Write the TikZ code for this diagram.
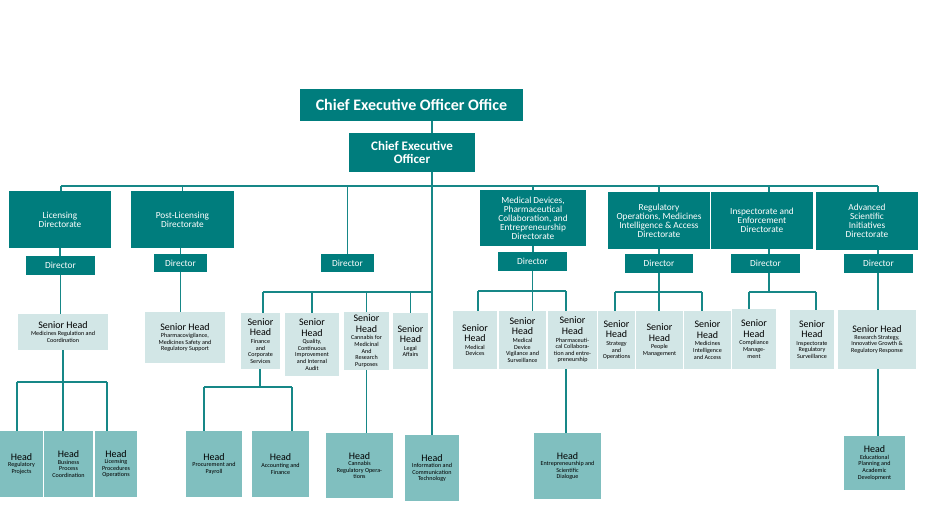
\documentclass[tikz,border=0pt]{standalone}
\usepackage{fontspec}
\setmainfont{Carlito}
\definecolor{orgdark}{RGB}{0,125,125}
\definecolor{orgline}{RGB}{22,135,135}
\definecolor{orglight}{RGB}{210,230,230}
\definecolor{orghead}{RGB}{128,191,191}
\newcommand{\sbig}{\fontsize{10}{11}\selectfont}
\begin{document}
\begin{tikzpicture}[x=1pt,y=-1pt]
		\tikzset{box/.style = {shape=rectangle, inner sep=1pt, align=center},
			wh/.style 2 args = {minimum width=#1, minimum height=#2},
			dark/.style = {box, fill=orgdark, text=white},
			directorate/.style = {dark, font=\fontsize{9.3}{9}\selectfont},
			director/.style = {dark, font=\fontsize{9.3}{10}\selectfont},
			senior/.style = {box, fill=orglight, font=\fontsize{6.1}{6.6}\selectfont},
			head/.style = {box, fill=orghead, font=\fontsize{6.1}{6.6}\selectfont},
			link/.style = {draw=orgline, line width=1.6pt}}

		\fill[white] (0,0) rectangle (927,527);
		\useasboundingbox (0,0) rectangle (927,527);

		\node[dark, wh={223}{32}, font=\fontsize{16}{17}\selectfont\bfseries] (top) at (411.5,105) {Chief Executive Officer Office};
		\node[dark, wh={126}{39}, font=\fontsize{13}{12.5}\selectfont\bfseries] (ceo) at (412,152.5) {Chief Executive\\Officer};

		\node[directorate, wh={102}{57}] (D_1) at (60,219.5) {Licensing\\Directorate};
		\node[directorate, wh={103}{57}] (D_2) at (182.5,219.5) {Post-Licensing\\Directorate};
		\node[directorate, wh={106}{56}] (D_3) at (533,218) {Medical Devices,\\Pharmaceutical\\Collaboration, and\\Entrepreneurship\\Directorate};
		\node[directorate, wh={102}{57}] (D_4) at (659,220.5) {Regulatory\\Operations, Medicines\\Intelligence \& Access\\Directorate};
		\node[directorate, wh={102}{57}] (D_5) at (762,220.5) {Inspectorate and\\Enforcement\\Directorate};
		\node[directorate, wh={102}{58}] (D_6) at (867,221) {Advanced\\Scientific\\Initiatives\\Directorate};

		\node[director, wh={69}{19}] (R_1) at (60.5,265.5) {Director};
		\node[director, wh={53}{18}] (R_2) at (180.5,263) {Director};
		\node[director, wh={53}{18}] (R_3) at (347.5,263) {Director};
		\node[director, wh={69}{19}] (R_4) at (532.5,261.5) {Director};
		\node[director, wh={68}{19}] (R_5) at (659,263.5) {Director};
		\node[director, wh={69}{19}] (R_6) at (765.5,263.5) {Director};
		\node[director, wh={69}{19}] (R_7) at (878.5,263.5) {Director};

		\node[senior, wh={90}{36}] (S_1) at (63,332) {{\sbig Senior Head}\\[1pt]Medicines Regulation and\\Coordination};
		\node[senior, wh={80}{51}] (S_2) at (185,337.5) {{\sbig Senior Head}\\[1pt]Pharmacovigilance,\\Medicines Safety and\\Regulatory Support};
		\node[senior, wh={39}{56}] (S_3) at (260.5,341) {{\sbig Senior}\\[2.5pt]{\sbig Head}\\[1pt]Finance\\and\\Corporate\\Services};
		\node[senior, wh={54}{63}] (S_4) at (312,344.5) {{\sbig Senior}\\[2.5pt]{\sbig Head}\\[1pt]Quality,\\Continuous\\Improvement\\and Internal\\Audit};
		\node[senior, wh={45}{58}] (S_5) at (366.5,341) {{\sbig Senior}\\[2.5pt]{\sbig Head}\\[1pt]Cannabis for\\Medicinal\\And\\Research\\Purposes};
		\node[senior, wh={35}{56}] (S_6) at (410.5,341) {{\sbig Senior}\\[2.5pt]{\sbig Head}\\[1pt]Legal\\Affairs};
		\node[senior, wh={44}{58}] (S_7) at (475,340) {{\sbig Senior}\\[2.5pt]{\sbig Head}\\[1pt]Medical\\Devices};
		\node[senior, wh={47}{58}] (S_8) at (522.5,340) {{\sbig Senior}\\[2.5pt]{\sbig Head}\\[1pt]Medical\\Device\\Vigilance and\\Surveillance};
		\node[senior, wh={49}{58}] (S_9) at (572.5,340) {{\sbig Senior}\\[2.5pt]{\sbig Head}\\[1pt]Pharmaceuti-\\cal Collabora-\\tion and entre-\\preneurship};
		\node[senior, wh={37}{58}] (S_10) at (616.5,340) {{\sbig Senior}\\[2.5pt]{\sbig Head}\\[1pt]Strategy\\and\\Operations};
		\node[senior, wh={47}{58}] (S_11) at (659.5,340) {{\sbig Senior}\\[2.5pt]{\sbig Head}\\[1pt]People\\Management};
		\node[senior, wh={47}{58}] (S_12) at (707.5,340) {{\sbig Senior}\\[2.5pt]{\sbig Head}\\[1pt]Medicines\\Intelligence\\and Access};
		\node[senior, wh={44}{60}] (S_13) at (754,339) {{\sbig Senior}\\[2.5pt]{\sbig Head}\\[1pt]Compliance\\Manage-\\ment};
		\node[senior, wh={44}{59}] (S_14) at (812,339.5) {{\sbig Senior}\\[2.5pt]{\sbig Head}\\[1pt]Inspectorate\\Regulatory\\Surveillance};
		\node[senior, wh={78}{59}] (S_15) at (877,339.5) {{\sbig Senior Head}\\Research Strategy,\\Innovative Growth \&\\Regulatory Response};

		\node[head, wh={43}{66}] (H_1) at (21.5,464) {{\sbig Head}\\Regulatory\\Projects};
		\node[head, wh={49}{66}] (H_2) at (68.5,464) {{\sbig Head}\\Business\\Process\\Coordination};
		\node[head, wh={42}{66}] (H_3) at (116,464) {{\sbig Head}\\Licensing\\Procedures\\Operations};
		\node[head, wh={56}{66}] (H_4) at (214,464) {{\sbig Head}\\Procurement and\\Payroll};
		\node[head, wh={57}{66}] (H_5) at (280.5,464) {{\sbig Head}\\Accounting and\\Finance};
		\node[head, wh={67}{65}] (H_6) at (359.5,465.5) {{\sbig Head}\\Cannabis\\Regulatory Opera-\\tions};
		\node[head, wh={54}{66}] (H_7) at (432,468) {{\sbig Head}\\Information and\\Communication\\Technology};
		\node[head, wh={67}{66}] (H_8) at (567.5,466) {{\sbig Head}\\Entrepreneurship and\\Scientific\\Dialogue};
		\node[head, wh={61}{54}] (H_9) at (874.5,463) {{\sbig Head}\\Educational\\Planning and\\Academic\\Development};

		\coordinate (J_1) at (61,186);
		\coordinate (J_2) at (878,186);
		\coordinate (J_3) at (769,186);
		\coordinate (J_4) at (63,382);
		\coordinate (J_5) at (17,382);
		\coordinate (J_6) at (107,382);
		\coordinate (J_7) at (263,292);
		\coordinate (J_8) at (260,387);
		\coordinate (J_9) at (204,387);
		\coordinate (J_10) at (292,387);
		\coordinate (J_11) at (478,291);
		\coordinate (J_12) at (566,291);
		\coordinate (J_13) at (615,292);
		\coordinate (J_14) at (702,292);
		\coordinate (J_15) at (749,292);
		\coordinate (J_16) at (816,292);

		\draw[link] (top.south -| H_7.north) -- (ceo.north -| H_7.north);
		\draw[link] (ceo.south -| H_7.north) -- (H_7.north);

		\draw[link] (J_1) -- (J_2);
		\draw[link] (J_1) -- (J_1 |- D_1.north);
		\draw[link] (D_2.north |- J_1) -- (D_2.north);
		\draw[link] (R_3.north |- J_1) -- (R_3.north);
		\draw[link] (D_3.north |- J_1) -- (D_3.north);
		\draw[link] (D_4.north |- J_1) -- (D_4.north);
		\draw[link] (J_3) -- (J_3 |- D_5.north);
		\draw[link] (J_2) -- (J_2 |- D_6.north);

		\draw[link] (D_1.south) -- (D_1.south |- R_1.north);
		\draw[link] (R_2.north |- D_2.south) -- (R_2.north);
		\draw[link] (D_3.south) -- (D_3.south |- R_4.north);
		\draw[link] (D_4.south) -- (D_4.south |- R_5.north);
		\draw[link] (J_3 |- D_5.south) -- (J_3 |- R_6.north);
		\draw[link] (J_2 |- D_6.south) -- (J_2 |- R_7.north);

		\draw[link] (R_1.south) -- (R_1.south |- S_1.north);
		\draw[link] (R_2.south) -- (R_2.south |- S_2.north);
		\draw[link] (J_4 |- S_1.south) -- (J_4);
		\draw[link] (J_5) -- (J_6);
		\draw[link] (J_5) -- (J_5 |- H_1.north);
		\draw[link] (J_4) -- (J_4 |- H_2.north);
		\draw[link] (J_6) -- (J_6 |- H_3.north);

		\draw[link] (J_7) -- (J_7 -| H_7.north);
		\draw[link] (J_7) -- (J_7 |- S_3.north);
		\draw[link] (S_4.north |- J_7) -- (S_4.north);
		\draw[link] (S_5.north |- J_7) -- (S_5.north);
		\draw[link] (S_6.north |- J_7) -- (S_6.north);
		\draw[link] (J_8 |- S_3.south) -- (J_8);
		\draw[link] (J_9) -- (J_10);
		\draw[link] (J_9) -- (J_9 |- H_4.north);
		\draw[link] (J_10) -- (J_10 |- H_5.north);
		\draw[link] (S_5.south) -- (S_5.south |- H_6.north);

		\draw[link] (R_4.south) -- (R_4.south |- S_8.north);
		\draw[link] (J_11) -- (J_12);
		\draw[link] (J_11) -- (J_11 |- S_7.north);
		\draw[link] (J_12) -- (J_12 |- S_9.north);
		\draw[link] (J_12 |- S_9.south) -- (J_12 |- H_8.north);

		\draw[link] (R_5.south) -- (R_5.south |- S_11.north);
		\draw[link] (J_13) -- (J_14);
		\draw[link] (J_13) -- (J_13 |- S_10.north);
		\draw[link] (J_14) -- (J_14 |- S_12.north);

		\draw[link] (J_3 |- R_6.south) -- (J_3 |- J_15);
		\draw[link] (J_15) -- (J_16);
		\draw[link] (J_15) -- (J_15 |- S_13.north);
		\draw[link] (J_16) -- (J_16 |- S_14.north);

		\draw[link] (J_2 |- R_7.south) -- (J_2 |- S_15.north);
		\draw[link] (J_2 |- S_15.south) -- (J_2 |- H_9.north);
	\end{tikzpicture}
\end{document}
